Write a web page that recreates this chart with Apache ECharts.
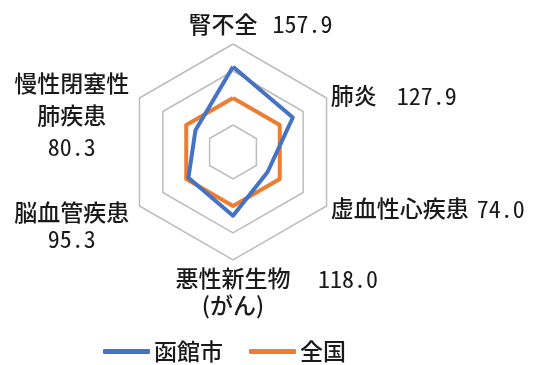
<!DOCTYPE html>
<html><head><meta charset="utf-8">
<script src="https://cdn.jsdelivr.net/npm/echarts@6/dist/echarts.min.js"></script>
<style>html,body{margin:0;padding:0;background:#fff}#c{width:544px;height:365px}</style>
</head><body><div id="c"></div>
<script>
// Indicators in ECharts order (counter-clockwise from top)
const indicators = ['腎不全', '慢性閉塞性肺疾患', '脳血管疾患', '悪性新生物（がん）', '虚血性心疾患', '肺炎'];
const hakodate = [157.9, 80.3, 95.3, 118.0, 74.0, 127.9];
const national = [100, 100, 100, 100, 100, 100];
const seriesNames = ['函館市', '全国'];
const axisMax = 200;

const txt = '#1a1a1a';
const base = { fontSize: 23, fontWeight: 500, fontFamily: "'Noto Sans CJK JP', sans-serif", color: txt };
const num = { fontSize: 24, fontFamily: "'Noto Sans Mono CJK JP', 'Noto Sans CJK JP', monospace", color: txt };

function labelFor(name) {
  const i = indicators.indexOf(name);
  const v = hakodate[i].toFixed(1);
  switch (i) {
    case 0: return '{sTop| }{n|腎不全}{gTop| }{v|' + v + '}';
    case 5: return '{n|肺炎}{gR1| }{v|' + v + '}';
    case 4: return '{n|虚血性心疾患}{gR2| }{v|' + v + '}';
    case 3: return '{sB| }{nb|悪性新生物}{gB| }{vb|' + v + '}\n{nb|(がん)}';
    case 2: return '{sp34| }\n{cl|脳血管疾患}\n{clv|' + v + '}';
    case 1: return '{sp39| }\n{cu|慢性閉塞性}\n{cu|肺疾患}\n{cuv|' + v + '}';
  }
  return name;
}

const chart = echarts.init(document.getElementById('c'), null, { renderer: 'canvas' });
chart.setOption({
  animation: false,
  backgroundColor: '#fff',
  legend: {
    data: seriesNames,
    left: 103, top: 340,
    icon: 'roundRect', itemWidth: 47, itemHeight: 5, itemGap: 26,
    padding: 0,
    textStyle: Object.assign({}, base, { padding: [0, 0, 0, -1] })
  },
  radar: {
    center: [233, 152],
    radius: 108,
    startAngle: 90,
    splitNumber: 4,
    shape: 'polygon',
    nameGap: 5,
    indicator: indicators.map(n => ({ name: n, min: 0, max: axisMax })),
    axisLine: { show: false },
    axisTick: { show: false },
    axisLabel: { show: false },
    splitArea: { show: false },
    splitLine: { lineStyle: { color: '#bdbdbd', width: 1.5 } },
    axisName: {
      formatter: labelFor,
      color: txt,
      rich: {
        n: Object.assign({}, base, { lineHeight: 30 }),
        v: Object.assign({}, num, { lineHeight: 30 }),
        sTop: { width: 55 }, gTop: { width: 15 },
        gR1: { width: 20 }, gR2: { width: 8 },
        nb: Object.assign({}, base, { lineHeight: 27 }),
        vb: Object.assign({}, num, { lineHeight: 27, width: 59 }),
        sB: { width: 87 }, gB: { width: 28 },
        cl: Object.assign({}, base, { lineHeight: 27, width: 127, align: 'center' }),
        clv: Object.assign({}, num, { lineHeight: 27, width: 127, align: 'center' }),
        cu: Object.assign({}, base, { lineHeight: 32, width: 127, align: 'center' }),
        cuv: Object.assign({}, num, { lineHeight: 32, width: 127, align: 'center' }),
        sp34: { fontSize: 1, lineHeight: 34 },
        sp39: { fontSize: 1, lineHeight: 39 }
      }
    }
  },
  series: [{
    type: 'radar',
    symbol: 'none',
    data: [
      { name: seriesNames[1], value: national, lineStyle: { color: '#ED7D31', width: 4 }, itemStyle: { color: '#ED7D31' } },
      { name: seriesNames[0], value: hakodate, lineStyle: { color: '#4472C4', width: 4 }, itemStyle: { color: '#4472C4' } }
    ]
  }]
});
</script></body></html>
